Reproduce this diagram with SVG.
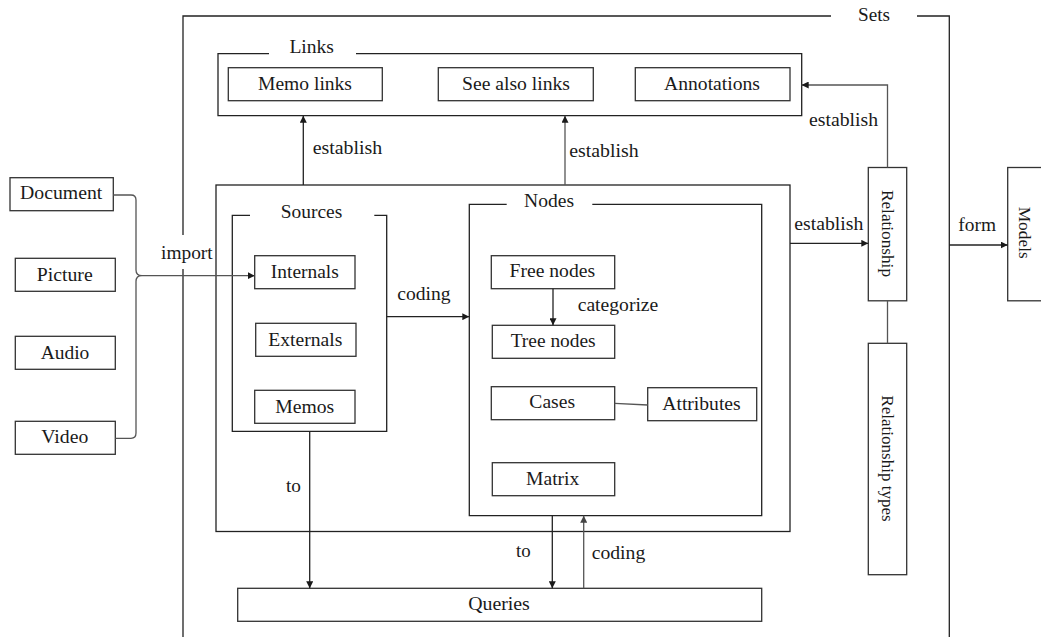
<svg xmlns="http://www.w3.org/2000/svg" width="1041" height="637" viewBox="0 0 1041 637">
  <defs>
    <marker id="arrow" viewBox="0 0 10 10" refX="10" refY="5" markerWidth="7" markerHeight="7" markerUnits="userSpaceOnUse" orient="auto">
      <path d="M0,0 L10,5 L0,10 z" fill="#1a1a1a"/>
    </marker>
    <marker id="arrowGrey" viewBox="0 0 10 10" refX="10" refY="5" markerWidth="7" markerHeight="7" markerUnits="userSpaceOnUse" orient="auto">
      <path d="M0,0 L10,5 L0,10 z" fill="#444"/>
    </marker>
  </defs>
  <style>
    rect.box { fill: #fff; stroke: #333; stroke-width: 1.3; }
    .frame { fill: none; stroke: #222; stroke-width: 1.3; }
    .conn { fill: none; stroke: #222; stroke-width: 1.3; }
    .connGrey { fill: none; stroke: #555; stroke-width: 1.3; }
    text { font-family: 'Liberation Serif', 'Times New Roman', serif; font-size: 18px; fill: #1a1a1a; }
    text.c { text-anchor: middle; }
    text.v { font-size: 17.5px; text-anchor: middle; }
  </style>

  <rect width="1041" height="637" fill="#fff"/>

  <!-- Sets: outer frame, open at the bottom -->
  <g id="sets">
    <path class="frame" d="M183,637 V269 M183,235 V16 H831 M917,16 H949.3 V637"/>
    <text class="c" x="874" y="20.7" textLength="32" lengthAdjust="spacingAndGlyphs">Sets</text>
  </g>

  <!-- Links group -->
  <g id="links">
    <path class="frame" d="M269,53.7 H218 V115.7 H801.7 V53.7 H356"/>
    <text class="c" x="311.7" y="53" textLength="44.5" lengthAdjust="spacingAndGlyphs">Links</text>
  </g>
  <g id="memo-links">
    <rect class="box" x="228.3" y="67.7" width="154" height="33"/>
    <text class="c" x="305" y="90" textLength="94" lengthAdjust="spacingAndGlyphs">Memo links</text>
  </g>
  <g id="see-also-links">
    <rect class="box" x="438.3" y="67.7" width="155" height="33"/>
    <text class="c" x="516" y="90" textLength="108" lengthAdjust="spacingAndGlyphs">See also links</text>
  </g>
  <g id="annotations">
    <rect class="box" x="635.3" y="67.7" width="154.7" height="33"/>
    <text class="c" x="712" y="90" textLength="96" lengthAdjust="spacingAndGlyphs">Annotations</text>
  </g>

  <!-- Container of Sources and Nodes -->
  <g id="workspace">
    <rect class="frame" x="216" y="185" width="574" height="346.5"/>
  </g>

  <!-- Sources group -->
  <g id="sources">
    <path class="frame" d="M250,215.3 H232.3 V431.3 H386.7 V215.3 H374.3"/>
    <text class="c" x="311.5" y="217.5" textLength="61.5" lengthAdjust="spacingAndGlyphs">Sources</text>
  </g>
  <g id="internals">
    <rect class="box" x="254.7" y="255.7" width="100.3" height="33"/>
    <text class="c" x="304.8" y="277.7" textLength="68" lengthAdjust="spacingAndGlyphs">Internals</text>
  </g>
  <g id="externals">
    <rect class="box" x="255.7" y="323.3" width="100.3" height="33"/>
    <text class="c" x="305.3" y="346" textLength="74" lengthAdjust="spacingAndGlyphs">Externals</text>
  </g>
  <g id="memos">
    <rect class="box" x="254.7" y="390.3" width="100.3" height="33"/>
    <text class="c" x="304.7" y="413.3" textLength="59" lengthAdjust="spacingAndGlyphs">Memos</text>
  </g>

  <!-- Nodes group -->
  <g id="nodes">
    <path class="frame" d="M506.7,204.3 H469.3 V515.7 H761.7 V204.3 H592.3"/>
    <text class="c" x="549" y="207.3" textLength="50" lengthAdjust="spacingAndGlyphs">Nodes</text>
  </g>
  <g id="free-nodes">
    <rect class="box" x="491.3" y="255.7" width="123.4" height="33"/>
    <text class="c" x="552.3" y="277.3" textLength="85.5" lengthAdjust="spacingAndGlyphs">Free nodes</text>
  </g>
  <g id="tree-nodes">
    <rect class="box" x="492.3" y="325.3" width="122.4" height="33"/>
    <text class="c" x="553.2" y="346.7" textLength="85" lengthAdjust="spacingAndGlyphs">Tree nodes</text>
  </g>
  <g id="cases">
    <rect class="box" x="491.3" y="386.7" width="123.4" height="33"/>
    <text class="c" x="552.2" y="408.3" textLength="45.7" lengthAdjust="spacingAndGlyphs">Cases</text>
  </g>
  <g id="attributes">
    <rect class="box" x="647.7" y="387.7" width="109" height="33"/>
    <text class="c" x="701.5" y="410" textLength="78.4" lengthAdjust="spacingAndGlyphs">Attributes</text>
  </g>
  <g id="matrix">
    <rect class="box" x="492.3" y="462.7" width="122.4" height="33"/>
    <text class="c" x="552.7" y="485" textLength="53.3" lengthAdjust="spacingAndGlyphs">Matrix</text>
  </g>

  <!-- Data inputs -->
  <g id="document">
    <rect class="box" x="10" y="177.7" width="103.3" height="33"/>
    <text class="c" x="61.2" y="199.3" textLength="82.3" lengthAdjust="spacingAndGlyphs">Document</text>
  </g>
  <g id="picture">
    <rect class="box" x="15.3" y="258.3" width="100" height="33"/>
    <text class="c" x="64.7" y="280.7" textLength="56" lengthAdjust="spacingAndGlyphs">Picture</text>
  </g>
  <g id="audio">
    <rect class="box" x="15.3" y="336.3" width="100" height="33"/>
    <text class="c" x="65" y="359" textLength="48.7" lengthAdjust="spacingAndGlyphs">Audio</text>
  </g>
  <g id="video">
    <rect class="box" x="15.3" y="421.3" width="100" height="33"/>
    <text class="c" x="64.8" y="443.3" textLength="47" lengthAdjust="spacingAndGlyphs">Video</text>
  </g>

  <!-- Relationship side -->
  <g id="relationship">
    <rect class="box" x="868.3" y="167.5" width="38.4" height="133.3"/>
    <text class="v" transform="translate(881.5,233.5) rotate(90)" x="0" y="0" textLength="87" lengthAdjust="spacingAndGlyphs">Relationship</text>
  </g>
  <g id="relationship-types">
    <rect class="box" x="868.3" y="343.3" width="38.4" height="231.4"/>
    <text class="v" transform="translate(881.5,458.5) rotate(90)" x="0" y="0" textLength="126.5" lengthAdjust="spacingAndGlyphs">Relationship types</text>
  </g>
  <g id="models">
    <rect class="box" x="1007.7" y="167.5" width="45" height="133.3"/>
    <text class="v" transform="translate(1019,232.7) rotate(90)" x="0" y="0" textLength="52" lengthAdjust="spacingAndGlyphs">Models</text>
  </g>

  <!-- Queries -->
  <g id="queries">
    <rect class="box" x="237.7" y="588.3" width="524" height="33"/>
    <text class="c" x="499" y="610" textLength="61.7" lengthAdjust="spacingAndGlyphs">Queries</text>
  </g>

  <!-- Connectors -->
  <g id="connectors">
    <!-- brace gathering the inputs -->
    <path class="connGrey" d="M113.3,195 H131 Q136,195 136,200 V270 Q136,275.7 142,275.7 M115.3,438.3 H131 Q136,438.3 136,433 V281.5 Q136,275.7 142,275.7"/>
    <!-- import -->
    <path class="connGrey" d="M142,275.7 H254.7" marker-end="url(#arrow)"/>
    <!-- establish: Sources side to Links -->
    <path class="conn" d="M303.3,185 V115.7" marker-end="url(#arrow)"/>
    <!-- establish: Nodes side to Links -->
    <path class="connGrey" d="M565,185 V115.7" marker-end="url(#arrow)"/>
    <!-- coding: Sources to Nodes -->
    <path class="conn" d="M386.7,316.7 H469.3" marker-end="url(#arrow)"/>
    <!-- categorize -->
    <path class="conn" d="M553,288.7 V325.3" marker-end="url(#arrow)"/>
    <!-- Cases to Attributes -->
    <path class="connGrey" d="M614.7,403.3 L647.7,405"/>
    <!-- to: Sources to Queries -->
    <path class="conn" d="M309.7,431.3 V588.3" marker-end="url(#arrow)"/>
    <!-- to: Nodes to Queries -->
    <path class="conn" d="M552.3,515.7 V588.3" marker-end="url(#arrow)"/>
    <!-- coding: Queries to Nodes -->
    <path class="connGrey" d="M583.7,588.3 V515.7" marker-end="url(#arrowGrey)"/>
    <!-- establish: workspace to Relationship -->
    <path class="conn" d="M790,243.3 H868.3" marker-end="url(#arrow)"/>
    <!-- establish: Relationship to Links -->
    <path class="connGrey" d="M887.5,167.5 V85 H801.7" marker-end="url(#arrow)"/>
    <!-- Relationship to Relationship types -->
    <path class="connGrey" d="M887.5,300.8 V343.3"/>
    <!-- form -->
    <path class="conn" d="M949.3,245 H1007.7" marker-end="url(#arrow)"/>

    <text x="161" y="258.5" textLength="51.7" lengthAdjust="spacingAndGlyphs">import</text>
    <text x="312.7" y="154" textLength="69.6" lengthAdjust="spacingAndGlyphs">establish</text>
    <text x="569.3" y="156.5" textLength="69.4" lengthAdjust="spacingAndGlyphs">establish</text>
    <text x="397.3" y="300" textLength="53.3" lengthAdjust="spacingAndGlyphs">coding</text>
    <text x="577.7" y="310.7" textLength="80.6" lengthAdjust="spacingAndGlyphs">categorize</text>
    <text x="286" y="491.7" textLength="15" lengthAdjust="spacingAndGlyphs">to</text>
    <text x="516" y="557" textLength="14.7" lengthAdjust="spacingAndGlyphs">to</text>
    <text x="591.7" y="559" textLength="53.6" lengthAdjust="spacingAndGlyphs">coding</text>
    <text x="794.3" y="230" textLength="69" lengthAdjust="spacingAndGlyphs">establish</text>
    <text x="809" y="125.7" textLength="69" lengthAdjust="spacingAndGlyphs">establish</text>
    <text x="958.3" y="230.7" textLength="37.7" lengthAdjust="spacingAndGlyphs">form</text>
  </g>
</svg>
